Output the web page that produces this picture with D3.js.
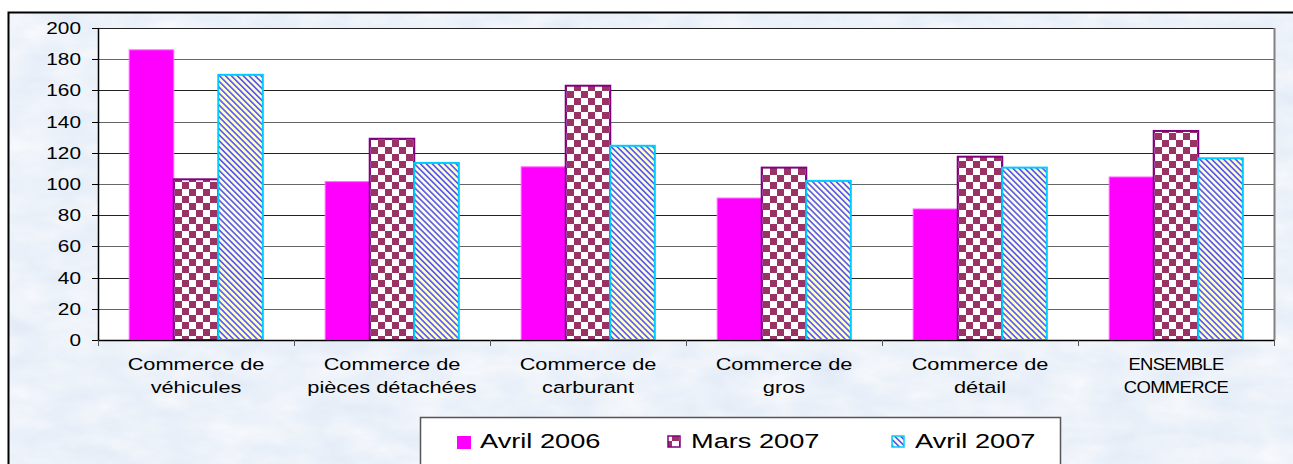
<!DOCTYPE html>
<html lang="fr">
<head>
<meta charset="utf-8">
<script src="https://cdn.jsdelivr.net/npm/d3@7"></script>
<style>
  body { margin: 0; background: #fff; }
  text { font-family: Arial, "Liberation Sans", sans-serif; fill: #000; }
</style>
</head>
<body>
<div id="chart"></div>
<script>
// Data
var categories = [
  ["Commerce de", "véhicules"],
  ["Commerce de", "pièces détachées"],
  ["Commerce de", "carburant"],
  ["Commerce de", "gros"],
  ["Commerce de", "détail"],
  ["ENSEMBLE", "COMMERCE"]
];
var seriesNames = ["Avril 2006", "Mars 2007", "Avril 2007"];
var avril2006 = [186, 101.5, 111, 91, 84, 104.5];
var mars2007 = [103, 129, 163, 110.5, 117.5, 134];
var avril2007 = [170, 113.5, 124.5, 102, 110.5, 116.5];
var yTicks = [0, 20, 40, 60, 80, 100, 120, 140, 160, 180, 200];

var W = 1293, H = 464;
var plot = { left: 98, right: 1274, top: 28, bottom: 340 };

var svg = d3.select("#chart").append("svg")
  .attr("width", W).attr("height", H);

var defs = svg.append("defs");

// mottled blue background
var f = defs.append("filter").attr("id", "paper")
  .attr("x", 0).attr("y", 0).attr("width", "100%").attr("height", "100%");
f.append("feTurbulence").attr("type", "fractalNoise")
  .attr("baseFrequency", "0.02 0.045").attr("numOctaves", 4).attr("seed", 3);
f.append("feColorMatrix").attr("type", "matrix")
  .attr("values", "0.22 0 0 0 0.73  0.15 0 0 0 0.81  0.06 0 0 0 0.92  0 0 0 0 1");

// checker pattern (Mars 2007)
var chk = defs.append("pattern").attr("id", "checker")
  .attr("patternUnits", "userSpaceOnUse").attr("width", 14).attr("height", 14);
chk.append("rect").attr("width", 14).attr("height", 14).attr("fill", "#fff");
chk.append("rect").attr("width", 7).attr("height", 7).attr("fill", "#993366");
chk.append("rect").attr("x", 7).attr("y", 7).attr("width", 7).attr("height", 7).attr("fill", "#993366");

// diagonal hatch (Avril 2007), running top-left to bottom-right
var hat = defs.append("pattern").attr("id", "hatch")
  .attr("patternUnits", "userSpaceOnUse").attr("width", 4.2).attr("height", 4.2)
  .attr("patternTransform", "rotate(-45)");
hat.append("rect").attr("width", 4.2).attr("height", 4.2).attr("fill", "#ffffcc");
hat.append("rect").attr("width", 1.6).attr("height", 4.2).attr("fill", "#5555ff");

var fills = ["#ff00ff", "url(#checker)", "url(#hatch)"];
var strokes = ["#ff66ff", "#800080", "#00ccff"];
var strokeW = [1, 2, 2];

// background and outer frame
svg.append("rect").attr("x", 8).attr("y", 12).attr("width", W).attr("height", H)
  .attr("filter", "url(#paper)");
svg.append("path").attr("d", "M8.5," + H + "V12.5H" + W)
  .attr("fill", "none").attr("stroke", "#000").attr("stroke-width", 2);

// scales
var x = d3.scaleBand().domain(d3.range(categories.length))
  .range([plot.left, plot.right]).padding(0);
var xInner = d3.scaleBand().domain(d3.range(3))
  .range([0, x.bandwidth()]).paddingInner(0).paddingOuter(0.7);
var y = d3.scaleLinear().domain([0, 200]).range([plot.bottom, plot.top]);

// plot area
svg.append("rect").attr("x", plot.left).attr("y", plot.top)
  .attr("width", plot.right - plot.left).attr("height", plot.bottom - plot.top)
  .attr("fill", "#fff");

// gridlines
svg.append("g").selectAll("line").data(yTicks.slice(1)).join("line")
  .attr("x1", plot.left).attr("x2", plot.right)
  .attr("y1", d => Math.round(y(d)) + 0.5).attr("y2", d => Math.round(y(d)) + 0.5)
  .attr("stroke", (d, i) => i % 2 ? "#222" : "#666").attr("stroke-width", 1);

// plot border right
svg.append("line").attr("x1", plot.right + 0.5).attr("x2", plot.right + 0.5)
  .attr("y1", plot.top).attr("y2", plot.bottom)
  .attr("stroke", "#808080").attr("stroke-width", 2);

// bars
var series = [avril2006, mars2007, avril2007];
series.forEach(function (vals, s) {
  svg.append("g").selectAll("rect").data(vals).join("rect")
    .attr("x", (d, i) => x(i) + xInner(s))
    .attr("y", d => y(d))
    .attr("width", xInner.bandwidth())
    .attr("height", d => y(0) - y(d))
    .attr("fill", fills[s])
    .attr("stroke", strokes[s])
    .attr("stroke-width", strokeW[s]);
});

// y axis
var yAxis = svg.append("g");
yAxis.append("line").attr("x1", plot.left + 0.5).attr("x2", plot.left + 0.5)
  .attr("y1", plot.top).attr("y2", plot.bottom).attr("stroke", "#000").attr("stroke-width", 1.5);
yAxis.selectAll(".tk").data(yTicks).join("line").attr("class", "tk")
  .attr("x1", plot.left - 6).attr("x2", plot.left)
  .attr("y1", d => Math.round(y(d)) + 0.5).attr("y2", d => Math.round(y(d)) + 0.5)
  .attr("stroke", "#000");
yAxis.selectAll("text").data(yTicks).join("text")
  .attr("transform", d => "translate(81," + (y(d) + 6) + ") scale(1.3,1)")
  .attr("text-anchor", "end").style("font-size", "16px")
  .text(d => d);

// x axis
var xAxis = svg.append("g");
xAxis.append("line").attr("x1", plot.left).attr("x2", plot.right)
  .attr("y1", plot.bottom + 0.5).attr("y2", plot.bottom + 0.5)
  .attr("stroke", "#000").attr("stroke-width", 1.5);
xAxis.selectAll(".tk").data(d3.range(categories.length + 1)).join("line").attr("class", "tk")
  .attr("x1", d => Math.round(plot.left + d * x.step()) + 0.5)
  .attr("x2", d => Math.round(plot.left + d * x.step()) + 0.5)
  .attr("y1", plot.bottom).attr("y2", plot.bottom + 6)
  .attr("stroke", "#555");
categories.forEach(function (lines, i) {
  lines.forEach(function (t, k) {
    xAxis.append("text")
      .attr("transform", "translate(" + (x(i) + x.bandwidth() / 2) + "," + (370 + k * 23) + ") scale(" + (i === 5 ? 1.12 : 1.32) + ",1)")
      .attr("text-anchor", "middle").style("font-size", "16.5px")
      .style("letter-spacing", i === 5 ? "-0.6px" : "0px")
      .text(t);
  });
});

// legend
var lg = svg.append("g");
lg.append("rect").attr("x", 420.5).attr("y", 417.5).attr("width", 640).attr("height", 60)
  .attr("fill", "#fff").attr("stroke", "#555").attr("stroke-width", 1.5);
var legX = [457, 668, 892];
seriesNames.forEach(function (name, s) {
  lg.append("rect").attr("x", legX[s]).attr("y", 436)
    .attr("width", s === 0 ? 14 : 12).attr("height", s === 0 ? 13 : 11)
    .attr("fill", fills[s]).attr("stroke", strokes[s]).attr("stroke-width", s === 0 ? 0 : 1.5);
  lg.append("text")
    .attr("transform", "translate(" + (legX[s] + 23) + ",448) scale(1.36,1)")
    .style("font-size", "20px").text(name);
});
</script>
</body>
</html>
